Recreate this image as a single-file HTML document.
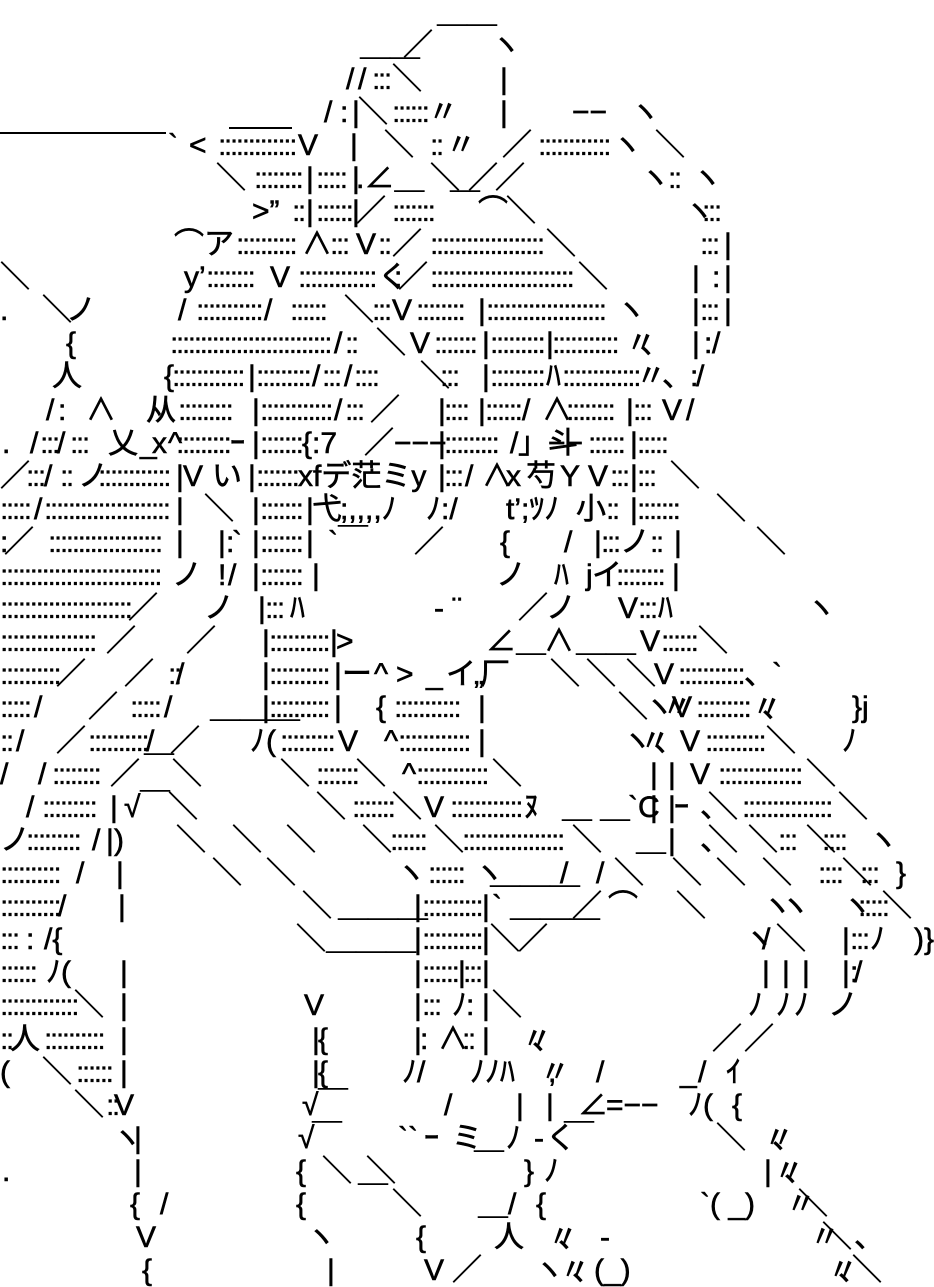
<!DOCTYPE html>
<html><head><meta charset="utf-8"><style>
html,body{margin:0;padding:0;background:#fff;}
body{width:934px;height:1287px;position:relative;overflow:hidden;font-family:"Liberation Sans","Noto Sans CJK JP",sans-serif;font-size:30px;line-height:33px;color:#000;-webkit-text-stroke:0.6px #000;}
.r{position:absolute;left:0;width:934px;height:33px;}
.r i{position:absolute;top:0;font-style:normal;white-space:pre;}
.r i.d{letter-spacing:-2.4px;-webkit-text-stroke:0.3px #000;}
.ln{position:absolute;height:2px;background:#000;}
</style></head><body>
<div class="ln" style="left:0;top:132px;width:166px"></div>
<div class="ln" style="left:229px;top:127px;width:63px"></div>

<div class="r" style="top:-4px"><i style="left:437px">＿＿</i></div>
<div class="r" style="top:29px"><i style="left:360px">＿＿</i><i style="left:403px">／</i><i style="left:491px">ヽ</i></div>
<div class="r" style="top:63px"><i style="left:346px">/</i><i style="left:358px">/</i><i class="d" style="left:372px">:::</i><i style="left:392px">＼</i><i style="left:500px">|</i></div>
<div class="r" style="top:96px"><i style="left:324px">/</i><i style="left:340px">:</i><i style="left:352px">|</i><i style="left:358px">＼</i><i class="d" style="left:392px">::::::</i><i style="left:428px">〃</i><i style="left:500px">|</i><i style="left:572px">−−</i><i style="left:630px">ヽ</i></div>
<div class="r" style="top:129px"><i style="left:168px">`</i><i style="left:189px">&lt;</i><i class="d" style="left:218px">:::::::::::::</i><i style="left:298px">V</i><i style="left:350px">|</i><i style="left:384px">＼</i><i class="d" style="left:430px">::</i><i style="left:446px">〃</i><i style="left:502px">／</i><i class="d" style="left:538px">::::::::::::</i><i style="left:612px">ヽ</i><i style="left:655px">＼</i></div>
<div class="r" style="top:162px"><i style="left:216px">＼</i><i class="d" style="left:254px">::::::::</i><i style="left:306px">|</i><i class="d" style="left:316px">:::::</i><i style="left:352px">|</i><i style="left:356px">.∠＿</i><i style="left:450px">＿</i><i style="left:430px">＼</i><i style="left:468px">／</i><i style="left:495px">／</i><i style="left:640px">ヽ</i><i class="d" style="left:668px">::</i><i style="left:692px">ヽ</i></div>
<div class="r" style="top:195px"><i style="left:252px">&gt;”</i><i class="d" style="left:292px">::</i><i style="left:306px">|</i><i class="d" style="left:316px">::::::</i><i style="left:352px">|</i><i style="left:356px">／</i><i class="d" style="left:392px">:::::::</i><i style="left:478px">⌒</i><i style="left:506px">＼</i><i style="left:684px">ヽ</i><i class="d" style="left:702px">:::</i></div>
<div class="r" style="top:228px"><i style="left:174px">⌒ア</i><i class="d" style="left:236px">::::::::::</i><i style="left:302px">∧</i><i class="d" style="left:330px">:::</i><i style="left:356px">V</i><i class="d" style="left:378px">::</i><i style="left:392px">／</i><i class="d" style="left:430px">:::::::::::::::::::</i><i style="left:546px">＼</i><i class="d" style="left:700px">:::</i><i style="left:724px">|</i></div>
<div class="r" style="top:261px"><i style="left:0px">＼</i><i style="left:184px">y’</i><i class="d" style="left:206px">::::::::</i><i style="left:270px">V</i><i class="d" style="left:298px">:::::::::::::</i><i style="left:378px">く</i><i style="left:394px">:</i><i style="left:398px">／</i><i class="d" style="left:430px">::::::::::::::::::::::::</i><i style="left:578px">＼</i><i style="left:692px">|</i><i style="left:712px">:</i><i style="left:724px">|</i></div>
<div class="r" style="top:294px"><i style="left:0px">.</i><i style="left:42px">＼</i><i style="left:66px">ノ</i><i style="left:178px">/</i><i class="d" style="left:196px">:::::::::::</i><i style="left:264px">/</i><i class="d" style="left:290px">::::::</i><i style="left:344px">＼</i><i class="d" style="left:372px">:::</i><i style="left:392px">V</i><i class="d" style="left:416px">::::::::</i><i style="left:478px">|</i><i class="d" style="left:486px">::::::::::::::::::::</i><i style="left:616px">ヽ</i><i style="left:692px">|</i><i class="d" style="left:700px">:::</i><i style="left:724px">|</i></div>
<div class="r" style="top:327px"><i style="left:66px">{</i><i class="d" style="left:170px">:::::::::::::::::::::::::::</i><i style="left:334px">/</i><i class="d" style="left:345px">::</i><i style="left:376px">＼</i><i style="left:410px">V</i><i class="d" style="left:434px">:::::::</i><i style="left:482px">|</i><i class="d" style="left:490px">:::::::::</i><i style="left:546px">|</i><i class="d" style="left:552px">:::::::::::</i><i style="left:626px">〃</i><i style="left:640px">、</i><i style="left:692px">|</i><i style="left:704px">:</i><i style="left:712px">/</i></div>
<div class="r" style="top:360px"><i style="left:52px">人</i><i style="left:164px">{</i><i class="d" style="left:172px">::::::::::::</i><i style="left:248px">|</i><i class="d" style="left:256px">:::::::::</i><i style="left:312px">/</i><i class="d" style="left:322px">:::</i><i style="left:344px">/</i><i class="d" style="left:354px">::::</i><i style="left:420px">＼</i><i class="d" style="left:440px">:::</i><i style="left:482px">|</i><i class="d" style="left:490px">:::::::::</i><i style="left:546px">ﾊ</i><i class="d" style="left:562px">:::::::::::::</i><i style="left:636px">〃</i><i style="left:662px">、</i><i style="left:690px">:</i><i style="left:696px">/</i></div>
<div class="r" style="top:394px"><i style="left:46px">/</i><i style="left:58px">:</i><i style="left:86px">∧</i><i style="left:146px">从</i><i class="d" style="left:178px">:::::::::</i><i style="left:252px">|</i><i class="d" style="left:260px">::::::::::::</i><i style="left:334px">/</i><i class="d" style="left:345px">:::</i><i style="left:370px">／</i><i style="left:438px">|</i><i class="d" style="left:444px">::::</i><i style="left:478px">|</i><i class="d" style="left:485px">::::::</i><i style="left:522px">/</i><i style="left:542px">∧</i><i class="d" style="left:566px">::::::::</i><i style="left:626px">|</i><i class="d" style="left:633px">:::</i><i style="left:662px">V</i><i style="left:686px">/</i></div>
<div class="r" style="top:427px"><i style="left:2px">.</i><i style="left:30px">/</i><i class="d" style="left:40px">:::</i><i style="left:57px">/</i><i class="d" style="left:70px">:::</i><i style="left:108px">乂</i><i style="left:140px">_</i><i style="left:152px">x</i><i style="left:168px">^</i><i class="d" style="left:176px">:::::::::</i><i style="left:230px">ｰ</i><i style="left:252px">|</i><i class="d" style="left:260px">:::::::</i><i style="left:302px">{:7</i><i style="left:364px">／</i><i style="left:394px">−−−</i><i style="left:438px">|</i><i class="d" style="left:444px">:::::::::</i><i style="left:510px">/</i><i style="left:518px">」斗</i><i style="left:548px">−−</i><i class="d" style="left:588px">::::::</i><i style="left:630px">|</i><i class="d" style="left:637px">:::::</i></div>
<div class="r" style="top:460px"><i style="left:0px">／</i><i class="d" style="left:26px">:::</i><i style="left:44px">/</i><i class="d" style="left:60px">::</i><i style="left:78px">ノ</i><i class="d" style="left:98px">::::::::::::</i><i style="left:176px">|</i><i style="left:183px">V</i><i style="left:212px">い</i><i style="left:248px">|</i><i class="d" style="left:256px">:::::::</i><i style="left:298px">xfデ茫ミy</i><i style="left:438px">|</i><i class="d" style="left:444px">:::</i><i style="left:465px">/</i><i style="left:482px">∧</i><i style="left:506px">x</i><i style="left:526px">芍</i><i style="left:560px">Y</i><i style="left:588px">V</i><i class="d" style="left:610px">:::</i><i style="left:630px">|</i><i class="d" style="left:637px">:::</i><i style="left:670px">＼</i></div>
<div class="r" style="top:493px"><i class="d" style="left:0px">:::::</i><i style="left:34px">/</i><i class="d" style="left:44px">:::::::::::::::::::::</i><i style="left:176px">|</i><i style="left:204px">＼</i><i style="left:252px">|</i><i class="d" style="left:260px">:::::::</i><i style="left:306px">|</i><i style="left:312px">弋</i><i style="left:340px">;,,,,ﾉ</i><i style="left:426px">ﾉ:/</i><i style="left:506px">t’;ﾂﾉ</i><i style="left:576px">小</i><i class="d" style="left:606px">::</i><i style="left:630px">|</i><i class="d" style="left:637px">:::::::</i><i style="left:716px">＼</i></div>
<div class="r" style="top:526px"><i style="left:0px">:</i><i style="left:4px">／</i><i class="d" style="left:48px">:::::::::::::::::::</i><i style="left:176px">|</i><i style="left:218px">|</i><i style="left:226px">:</i><i style="left:232px">`</i><i style="left:252px">|</i><i class="d" style="left:260px">:::::::</i><i style="left:306px">|</i><i style="left:328px">`￣</i><i style="left:414px">／</i><i style="left:500px">{</i><i style="left:564px">/</i><i style="left:594px">|</i><i class="d" style="left:601px">:::</i><i style="left:620px">ノ</i><i class="d" style="left:650px">::</i><i style="left:674px">|</i><i style="left:756px">＼</i></div>
<div class="r" style="top:559px"><i class="d" style="left:0px">:::::::::::::::::::::::::::</i><i style="left:172px">ノ</i><i style="left:218px">!</i><i style="left:228px">/</i><i style="left:252px">|</i><i class="d" style="left:260px">:::::::</i><i style="left:312px">|</i><i style="left:496px">ノ</i><i style="left:554px">ﾊ</i><i style="left:586px">j</i><i style="left:592px">イ</i><i class="d" style="left:616px">::::::::</i><i style="left:672px">|</i></div>
<div class="r" style="top:592px"><i class="d" style="left:0px">::::::::::::::::::::::</i><i style="left:128px">／</i><i style="left:204px">ノ</i><i style="left:258px">|</i><i class="d" style="left:265px">:::</i><i style="left:290px">ﾊ</i><i style="left:434px">-</i><i style="left:452px">¨</i><i style="left:518px">／</i><i style="left:546px">ノ</i><i style="left:618px">V</i><i class="d" style="left:638px">:::</i><i style="left:658px">ﾊ</i><i style="left:806px">ヽ</i></div>
<div class="r" style="top:625px"><i class="d" style="left:0px">::::::::::::::::</i><i style="left:106px">／</i><i style="left:186px">／</i><i style="left:262px">|</i><i class="d" style="left:269px">::::::::::</i><i style="left:330px">|</i><i style="left:336px">&gt;</i><i style="left:486px">∠</i><i style="left:516px">＿</i><i style="left:544px">∧</i><i style="left:576px">＿＿</i><i style="left:640px">V</i><i class="d" style="left:661px">::::::</i><i style="left:698px">＼</i></div>
<div class="r" style="top:658px"><i class="d" style="left:0px">::::::::::</i><i style="left:56px">／</i><i style="left:124px">／</i><i class="d" style="left:168px">::</i><i style="left:176px">/</i><i style="left:262px">|</i><i class="d" style="left:269px">::::::::::</i><i style="left:334px">|</i><i style="left:342px">ー</i><i style="left:374px">^</i><i style="left:396px">&gt;</i><i style="left:426px">_</i><i style="left:446px">イ</i><i style="left:474px">„</i><i style="left:480px">厂</i><i style="left:550px">＼</i><i style="left:586px">＼</i><i style="left:626px">＼</i><i style="left:654px">V</i><i class="d" style="left:678px">:::::::::::</i><i style="left:744px">、</i><i style="left:772px">`</i></div>
<div class="r" style="top:691px"><i class="d" style="left:0px">:::::</i><i style="left:34px">/</i><i style="left:88px">／</i><i class="d" style="left:130px">:::::</i><i style="left:164px">/</i><i style="left:210px">＿＿＿</i><i style="left:262px">|</i><i class="d" style="left:269px">::::::::::</i><i style="left:334px">|</i><i style="left:376px">{</i><i class="d" style="left:394px">:::::::::::</i><i style="left:478px">|</i><i style="left:618px">＼</i><i style="left:644px">ヽ</i><i style="left:662px">〃</i><i style="left:672px">V</i><i class="d" style="left:696px">:::::::::</i><i style="left:752px">〃</i><i style="left:762px">、</i><i style="left:852px">}j</i></div>
<div class="r" style="top:725px"><i class="d" style="left:0px">::</i><i style="left:16px">/</i><i style="left:56px">／</i><i class="d" style="left:88px">::::::::::</i><i style="left:146px">/</i><i style="left:144px">＿</i><i style="left:170px">／</i><i style="left:250px">ﾉ</i><i style="left:266px">(</i><i class="d" style="left:280px">:::::::::</i><i style="left:338px">V</i><i style="left:384px">^</i><i class="d" style="left:398px">::::::::::::</i><i style="left:478px">|</i><i style="left:622px">ヽ</i><i style="left:640px">〃</i><i style="left:654px">、</i><i style="left:680px">V</i><i class="d" style="left:705px">::::::::::</i><i style="left:766px">＼</i><i style="left:842px">ﾉ</i></div>
<div class="r" style="top:758px"><i style="left:0px">/</i><i style="left:38px">/</i><i class="d" style="left:52px">::::::::</i><i style="left:110px">／</i><i style="left:172px">＼</i><i style="left:280px">＼</i><i class="d" style="left:316px">:::::::</i><i style="left:356px">＼</i><i style="left:402px">^</i><i class="d" style="left:416px">::::::::::::</i><i style="left:492px">＼</i><i style="left:650px">|</i><i style="left:668px">|</i><i style="left:690px">V</i><i class="d" style="left:718px">::::::::::::::</i><i style="left:806px">＼</i></div>
<div class="r" style="top:791px"><i style="left:26px">/</i><i class="d" style="left:42px">:::::::::</i><i style="left:110px">|</i><i style="left:124px">√</i><i style="left:140px">￣</i><i style="left:168px">＼</i><i style="left:316px">＼</i><i class="d" style="left:352px">:::::::</i><i style="left:392px">＼</i><i style="left:424px">V</i><i class="d" style="left:450px">::::::::::::</i><i style="left:524px">ﾇ</i><i style="left:562px">＿</i><i style="left:600px">＿</i><i style="left:628px">`C</i><i style="left:650px">|</i><i style="left:668px">|</i><i style="left:674px">ｰ</i><i style="left:700px">、</i><i style="left:708px">＼</i><i class="d" style="left:742px">:::::::::::::::</i><i style="left:838px">＼</i></div>
<div class="r" style="top:824px"><i style="left:0px">ノ</i><i class="d" style="left:26px">:::::::::</i><i style="left:92px">/</i><i style="left:106px">|</i><i style="left:114px">)</i><i style="left:176px">＼</i><i style="left:232px">＼</i><i style="left:286px">＼</i><i style="left:362px">＼</i><i class="d" style="left:390px">::::::</i><i style="left:434px">＼</i><i class="d" style="left:462px">:::::::::::::::::</i><i style="left:572px">＼</i><i style="left:636px">＿</i><i style="left:668px">|</i><i style="left:700px">、</i><i style="left:708px">＼</i><i style="left:748px">＼</i><i class="d" style="left:778px">:::</i><i style="left:806px">＼</i><i class="d" style="left:822px">::::</i><i style="left:868px">ヽ</i></div>
<div class="r" style="top:857px"><i class="d" style="left:0px">::::::::::</i><i style="left:76px">/</i><i style="left:116px">|</i><i style="left:212px">＼</i><i style="left:266px">＼</i><i style="left:396px">ヽ</i><i class="d" style="left:428px">::::::</i><i style="left:474px">ヽ</i><i style="left:490px">＿＿＿</i><i style="left:560px">/</i><i style="left:596px">/</i><i style="left:614px">＼</i><i style="left:672px">＼</i><i style="left:716px">＼</i><i style="left:762px">＼</i><i class="d" style="left:818px">::::</i><i style="left:842px">＼</i><i class="d" style="left:860px">:::</i><i style="left:896px">}</i></div>
<div class="r" style="top:890px"><i class="d" style="left:0px">::::::::::</i><i style="left:58px">/</i><i style="left:118px">|</i><i style="left:302px">＼</i><i style="left:338px">＿＿＿</i><i style="left:414px">|</i><i class="d" style="left:422px">::::::::::</i><i style="left:482px">|</i><i style="left:492px">`</i><i style="left:510px">＿＿＿</i><i style="left:572px">／</i><i style="left:608px">⌒</i><i style="left:676px">＼</i><i style="left:762px">ヽ</i><i style="left:780px">ヽ</i><i style="left:842px">ヽ</i><i class="d" style="left:858px">:::::</i><i style="left:882px">＼</i></div>
<div class="r" style="top:923px"><i class="d" style="left:0px">:::</i><i style="left:26px">:</i><i style="left:44px">/{</i><i style="left:296px">＼</i><i style="left:326px">＿＿＿</i><i style="left:414px">|</i><i class="d" style="left:422px">::::::::::</i><i style="left:482px">|</i><i style="left:490px">＼</i><i style="left:518px">／</i><i style="left:744px">ヽ</i><i style="left:762px">/</i><i style="left:776px">＼</i><i style="left:842px">|</i><i class="d" style="left:850px">:::</i><i style="left:870px">ﾉ</i><i style="left:914px">)}</i></div>
<div class="r" style="top:956px"><i class="d" style="left:0px">::::::</i><i style="left:46px">ﾉ(</i><i style="left:120px">|</i><i style="left:414px">|</i><i class="d" style="left:422px">::::::</i><i style="left:458px">|</i><i class="d" style="left:463px">:::</i><i style="left:482px">|</i><i style="left:762px">|</i><i style="left:782px">|</i><i style="left:802px">|</i><i style="left:842px">|</i><i style="left:850px">:</i><i style="left:854px">/</i></div>
<div class="r" style="top:989px"><i class="d" style="left:0px">:::::::::::::</i><i style="left:74px">＼</i><i style="left:120px">|</i><i style="left:304px">V</i><i style="left:414px">|</i><i class="d" style="left:422px">:::</i><i style="left:452px">ﾉ</i><i style="left:466px">:</i><i style="left:482px">|</i><i style="left:492px">＼</i><i style="left:748px">ﾉ</i><i style="left:776px">ﾉ</i><i style="left:794px">ﾉ</i><i style="left:828px">ノ</i></div>
<div class="r" style="top:1023px"><i class="d" style="left:0px">::</i><i style="left:10px">人</i><i class="d" style="left:44px">::::::::::</i><i style="left:120px">|</i><i style="left:312px">|</i><i style="left:318px">{</i><i style="left:414px">|</i><i style="left:420px">:</i><i style="left:438px">∧</i><i class="d" style="left:462px">::</i><i style="left:482px">|</i><i style="left:522px">〃</i><i style="left:532px">、</i><i style="left:712px">／</i><i style="left:744px">／</i></div>
<div class="r" style="top:1056px"><i style="left:0px">(</i><i style="left:42px">＼</i><i class="d" style="left:76px">::::::</i><i style="left:120px">|</i><i style="left:312px">|</i><i style="left:318px">{</i><i style="left:402px">ﾉ/</i><i style="left:470px">ﾉﾉ</i><i style="left:500px">ﾊ</i><i style="left:540px">〃</i><i style="left:548px">,</i><i style="left:596px">/</i><i style="left:680px">_</i><i style="left:698px">/</i><i style="left:726px">ｲ</i></div>
<div class="r" style="top:1089px"><i style="left:74px">＼</i><i class="d" style="left:106px">::</i><i style="left:114px">V</i><i style="left:302px">√</i><i style="left:318px">￣</i><i style="left:444px">/</i><i style="left:516px">|</i><i style="left:546px">|</i><i style="left:578px">∠</i><i style="left:606px">=−−</i><i style="left:688px">ﾉ(</i><i style="left:732px">{</i></div>
<div class="r" style="top:1122px"><i style="left:112px">ヽ</i><i style="left:134px">|</i><i style="left:298px">√</i><i style="left:312px">￣</i><i style="left:398px">``</i><i style="left:424px">ｰ</i><i style="left:452px">ミ</i><i style="left:474px">＿</i><i style="left:506px">ﾉ</i><i style="left:534px">-</i><i style="left:546px">く</i><i style="left:564px">￣</i><i style="left:716px">＼</i><i style="left:764px">〃</i><i style="left:772px">、</i></div>
<div class="r" style="top:1155px"><i style="left:2px">.</i><i style="left:134px">|</i><i style="left:296px">{</i><i style="left:322px">＼</i><i style="left:366px">＼</i><i style="left:358px">＿</i><i style="left:524px">}</i><i style="left:544px">ﾉ</i><i style="left:764px">|</i><i style="left:774px">〃</i><i style="left:784px">、</i></div>
<div class="r" style="top:1188px"><i style="left:130px">{</i><i style="left:160px">/</i><i style="left:296px">{</i><i style="left:392px">＼</i><i style="left:478px">＿</i><i style="left:508px">/</i><i style="left:536px">{</i><i style="left:700px">`( _)</i><i style="left:786px">〃</i><i style="left:798px">＼</i></div>
<div class="r" style="top:1221px"><i style="left:136px">V</i><i style="left:306px">ヽ</i><i style="left:416px">{</i><i style="left:494px">人</i><i style="left:548px">〃</i><i style="left:558px">、</i><i style="left:600px">-</i><i style="left:810px">〃</i><i style="left:822px">＼</i><i style="left:854px">、</i></div>
<div class="r" style="top:1254px"><i style="left:142px">{</i><i style="left:327px">|</i><i style="left:424px">V</i><i style="left:452px">／</i><i style="left:534px">ヽ</i><i style="left:560px">〃</i><i style="left:572px">、</i><i style="left:594px">(_)</i><i style="left:828px">〃</i><i style="left:838px">、</i><i style="left:852px">＼</i></div>
</body></html>
